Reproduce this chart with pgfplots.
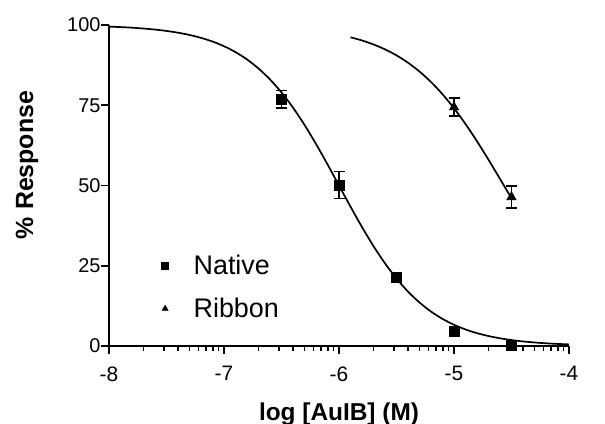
\documentclass[border=0pt]{standalone}
\usepackage{fontspec}
\setmainfont{Liberation Sans}
\usepackage{pgfplots}
\pgfplotsset{compat=1.18}

\begin{document}
\begin{tikzpicture}
\begin{axis}[
  scale only axis, width=460bp, height=321bp,
  at={(0,0)}, anchor=south west,
  xmin=-8, xmax=-4, ymin=0, ymax=100,
  axis x line=bottom, axis y line=left,
  axis line style={-, line width=1.6bp},
  tick align=outside, major tick length=8bp, minor tick length=5bp,
  tick style={line width=1.5bp, black},
  xtick={-8,-7,-6,-5,-4}, xticklabels={-8,-7,-6,-5,-4},
  minor xtick={-7.699,-7.523,-7.398,-7.301,-7.222,-7.155,-7.097,-7.046,
               -6.699,-6.523,-6.398,-6.301,-6.222,-6.155,-6.097,-6.046,
               -5.699,-5.523,-5.398,-5.301,-5.222,-5.155,-5.097,-5.046,
               -4.699,-4.523,-4.398,-4.301,-4.222,-4.155,-4.097,-4.046},
  ytick={0,25,50,75,100},
  /pgf/number format/assume math mode=true,
  xticklabel style={font=\fontsize{21}{23}\selectfont, yshift=-9bp},
  yticklabel style={font=\fontsize{20}{22}\selectfont, xshift=3bp},
  xlabel={\textbf{log [AuIB] (M)}},
  xlabel style={font=\fontsize{24.5}{27}\selectfont, at={(axis description cs:0.5,0)}, anchor=base, yshift=-74bp},
  ylabel={\textbf{\% Response}},
  ylabel style={font=\fontsize{25}{27}\selectfont, at={(axis description cs:-0.178,0.564)}, anchor=center},
  legend style={at={(axis description cs:0.114,0.29)}, anchor=north west, draw=none, fill=none,
    font=\fontsize{27}{29}\selectfont, row sep=18bp, column sep=23bp, inner sep=0pt},
  legend cell align=left,
  legend image post style={mark size=3.5bp},
  clip=false,
]
% Native data
\addplot[only marks, mark=square*, mark size=5bp, black,
  error bars/.cd, y dir=both, y explicit,
  error bar style={line width=1.4bp},
  error mark options={mark size=5.5bp, line width=1.4bp, rotate=90}]
  coordinates {(-6.5,76.9) +- (0,2.75) (-6,50.2) +- (0,4.2) (-5.5,21.3) +- (0,0) (-5,4.5) +- (0,0) (-4.5,0.2) +- (0,0)};
\addlegendentry{Native}
% Ribbon data
\addplot[only marks, mark=triangle*, mark size=5.5bp, black,
  error bars/.cd, y dir=both, y explicit,
  error bar style={line width=1.4bp},
  error mark options={mark size=5.5bp, line width=1.4bp, rotate=90}]
  coordinates {(-5,74.4) +- (0,2.8) (-4.5,46.4) +- (0,3.4)};
\addlegendentry{Ribbon}
% Native fit
\addplot[forget plot, smooth, black, line width=1.7bp] coordinates {
(-8,99.50) (-7.9,99.35) (-7.8,99.16) (-7.7,98.90) (-7.6,98.58) (-7.5,98.15)
(-7.4,97.60) (-7.3,96.90) (-7.2,95.99) (-7.1,94.85) (-7.0,93.39) (-6.9,91.55)
(-6.8,89.27) (-6.7,86.45) (-6.6,83.04) (-6.5,78.98) (-6.4,74.26) (-6.3,68.88)
(-6.2,62.94) (-6.1,56.58) (-6.0,50.00) (-5.9,43.42) (-5.8,37.06) (-5.7,31.12)
(-5.6,25.74) (-5.5,21.02) (-5.4,16.95) (-5.3,13.55) (-5.2,10.73) (-5.1,8.45)
(-5.0,6.61) (-4.9,5.15) (-4.8,4.00) (-4.7,3.10) (-4.6,2.40) (-4.5,1.85)
(-4.4,1.42) (-4.3,1.10) (-4.2,0.84) (-4.1,0.65) (-4.0,0.50)};
% Ribbon fit
\addplot[forget plot, smooth, black, line width=1.7bp] coordinates {
(-5.9,96.18) (-5.8,95.18) (-5.7,93.94) (-5.6,92.41) (-5.5,90.54) (-5.4,88.25)
(-5.3,85.50) (-5.2,82.24) (-5.1,78.43) (-5.0,74.06) (-4.9,69.16) (-4.8,63.78)
(-4.7,58.03) (-4.6,52.05) (-4.5,46.02)};
\end{axis}
\pgfresetboundingbox
\path (-109bp,-78bp) rectangle (496bp,346bp);
\end{tikzpicture}
\end{document}
